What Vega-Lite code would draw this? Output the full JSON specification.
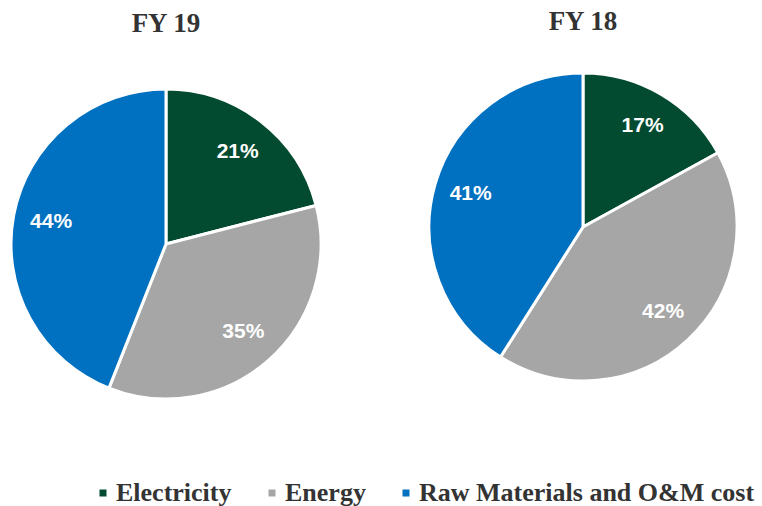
{
  "$schema": "https://vega.github.io/schema/vega-lite/v6.json",
  "background": "white",
  "padding": {"left": 9, "top": 7, "right": 5, "bottom": 0},
  "datasets": {
    "pie": [
      {"year": "FY 19", "category": "Electricity", "share": 21, "label": "21%", "order": 1},
      {"year": "FY 19", "category": "Energy", "share": 35, "label": "35%", "order": 2},
      {"year": "FY 19", "category": "Raw Materials and O&M cost", "share": 44, "label": "44%", "order": 3},
      {"year": "FY 18", "category": "Electricity", "share": 17, "label": "17%", "order": 1},
      {"year": "FY 18", "category": "Energy", "share": 42, "label": "42%", "order": 2},
      {"year": "FY 18", "category": "Raw Materials and O&M cost", "share": 41, "label": "41%", "order": 3}
    ]
  },
  "data": {"name": "pie"},
  "spacing": 104,
  "hconcat": [
    {
      "title": {"text": "FY 19", "offset": 50},
      "width": 310,
      "height": 310,
      "transform": [{"filter": "datum.year == 'FY 19'"}],
      "encoding": {
        "theta": {"field": "share", "type": "quantitative", "stack": true},
        "order": {"field": "order", "type": "quantitative"}
      },
      "layer": [
        {
          "mark": {"type": "arc", "outerRadius": 155, "stroke": "white", "strokeWidth": 3, "strokeJoin": "round"},
          "encoding": {
            "color": {"field": "category", "type": "nominal", "legend": {"orient": "bottom", "direction": "horizontal", "offset": 79, "padding": 0, "title": " ", "titleOrient": "left", "titlePadding": 79, "titleFontSize": 8}}
          }
        },
        {
          "mark": {"type": "text", "radius": 117, "color": "white", "font": "Liberation Sans", "fontSize": 21, "fontWeight": "bold"},
          "encoding": {"text": {"field": "label"}}
        }
      ]
    },
    {
      "title": {"text": "FY 18", "offset": 36},
      "width": 308,
      "height": 276,
      "transform": [{"filter": "datum.year == 'FY 18'"}],
      "encoding": {
        "theta": {"field": "share", "type": "quantitative", "stack": true},
        "order": {"field": "order", "type": "quantitative"}
      },
      "layer": [
        {
          "mark": {"type": "arc", "outerRadius": 154, "stroke": "white", "strokeWidth": 3, "strokeJoin": "round"},
          "encoding": {
            "color": {"field": "category", "type": "nominal", "legend": {"orient": "bottom", "direction": "horizontal", "offset": 79, "padding": 0, "title": " ", "titleOrient": "left", "titlePadding": 79, "titleFontSize": 8}}
          }
        },
        {
          "mark": {"type": "text", "radius": 117, "color": "white", "font": "Liberation Sans", "fontSize": 21, "fontWeight": "bold"},
          "encoding": {"text": {"field": "label"}}
        }
      ]
    }
  ],
  "resolve": {"scale": {"color": "shared"}},
  "config": {
    "view": {"stroke": null},
    "title": {"font": "Liberation Serif", "fontSize": 27, "fontWeight": "bold", "color": "#333333", "anchor": "middle"},
    "range": {"category": ["#034B30", "#A6A6A6", "#0070C0"]},
    "legend": {
      "symbolType": "square",
      "symbolSize": 49,
      "symbolStrokeWidth": 0,
      "labelFont": "Liberation Serif",
      "labelFontSize": 26,
      "labelFontWeight": "bold",
      "labelColor": "#333333",
      "labelLimit": 0,
      "columnPadding": 27,
      "labelOffset": 0
    }
  }
}
